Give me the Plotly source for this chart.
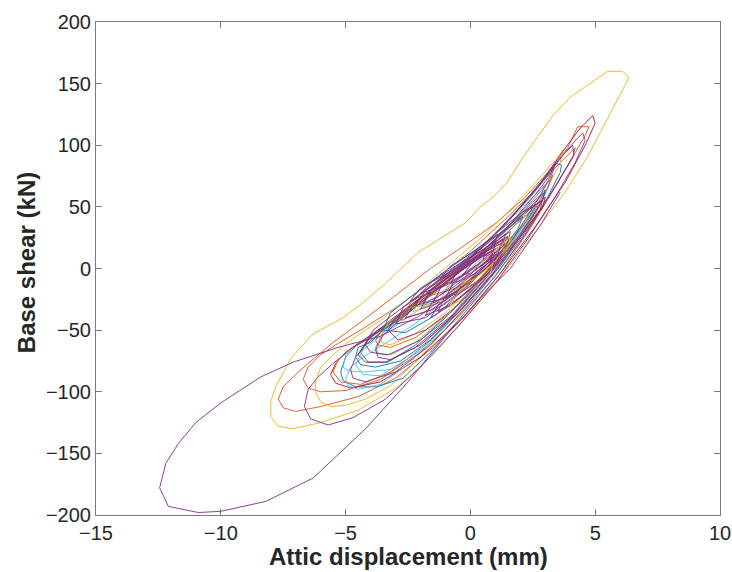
import plotly.graph_objects as go

# MATLAB default colour order
BLUE, ORANGE, YELLOW, PURPLE, GREEN, CYAN, RED = (
    "#0072BD", "#D95319", "#EDB120", "#7E2F8E", "#77AC30", "#4DBEEE", "#A2142F")

# ---- loops: attic displacement (mm) / base shear (kN) ----
y1_x = [-8.0, -7.8, -7.2, -6.3, -5.1, -4.2, -3.4, -2.1, -0.2, 0.4, 0.9, 1.45, 2.1, 2.8, 3.3, 4.0,
        4.8, 5.5, 6.1, 6.35, 6.1, 5.5, 4.7, 3.8, 2.6, 1.3, 0.0, -1.4, -2.9, -4.5, -6.0, -7.1,
        -7.7, -8.0, -8.0]
y1_y = [-108, -96, -73, -53, -40, -26, -12, 13, 37, 50, 58, 69, 90, 110, 124, 139,
        150, 160, 160, 155, 145, 122, 91, 62, 30, -5, -36, -68, -96, -115, -125, -130,
        -128, -120, -108]

o1_x = [-7.5, -7.0, -6.5, -5.5, -4.3, -3.0, -1.6, 0.0, 1.1, 2.2, 3.1, 3.9, 4.3, 4.75, 4.6, 4.2,
        3.5, 2.5, 1.2, 0.0, -1.5, -3.0, -4.5, -6.0, -7.0, -7.5, -7.7, -7.5]
o1_y = [-96, -86, -77, -60, -42, -22, 0, 22, 38, 58, 78, 98, 115, 115, 108, 94,
        70, 36, -4, -34, -64, -89, -104, -112, -116, -113, -106, -96]

p2_x = [-6.5, -6.1, -5.5, -4.7, -3.6, -2.2, -0.8, 0.6, 1.8, 2.8, 3.7, 4.3, 4.5, 4.6, 4.2, 3.4,
        2.3, 1.0, -0.5, -2.0, -3.4, -4.7, -5.7, -6.4, -6.65, -6.5]
p2_y = [-98, -88, -77, -64, -50, -28, -5, 20, 45, 70, 92, 106, 110, 104, 86, 58,
        24, -12, -47, -80, -106, -121, -127, -122, -112, -98]

r1_x = [-5.6, -5.4, -5.0, -4.3, -3.0, -1.5, 0.0, 1.5, 2.7, 3.7, 4.4, 4.9, 5.0, 4.6, 3.8, 2.6,
        1.2, -0.3, -2.0, -3.6, -4.8, -5.4, -5.6]
r1_y = [-86, -77, -68, -58, -40, -16, 8, 38, 66, 95, 114, 124, 118, 100, 70, 34,
        -4, -40, -72, -92, -97, -93, -86]

o2_x = [-6.7, -6.5, -6.0, -5.4, -4.4, -3.0, -1.5, 0.0, 1.4, 2.6, 3.6, 4.2, 4.1, 3.4, 2.3, 1.0,
        -0.5, -2.0, -3.6, -5.0, -6.0, -6.5, -6.7]
o2_y = [-90, -80, -70, -62, -50, -32, -10, 14, 40, 64, 86, 98, 90, 66, 30, -6,
        -40, -68, -90, -99, -100, -97, -90]

y2_x = [-6.2, -6.0, -5.5, -4.8, -3.6, -2.2, -0.8, 0.6, 1.8, 2.8, 3.5, 3.7, 3.6, 3.0, 2.0, 0.8,
        -0.6, -2.0, -3.2, -4.2, -5.0, -5.6, -6.0, -6.2, -6.2]
y2_y = [-92, -80, -70, -58, -42, -20, 4, 28, 52, 74, 90, 96, 86, 62, 28, -6,
        -40, -72, -95, -106, -111, -112, -108, -101, -92]

b1_x = [-5.2, -5.0, -4.6, -4.0, -2.8, -1.4, 0.0, 1.3, 2.4, 3.2, 3.45, 3.65, 3.6, 3.1, 2.2, 1.0,
        -0.4, -1.6, -2.7, -3.75, -4.6, -5.1, -5.2]
b1_y = [-84, -72, -63, -56, -38, -14, 10, 34, 58, 78, 85, 84, 78, 58, 28, -6,
        -40, -68, -89, -96, -96, -91, -84]

c1_x = [-5.1, -5.0, -4.6, -4.0, -2.8, -1.3, 0.2, 1.5, 2.5, 3.0, 3.2, 3.1, 2.3, 1.1, -0.3,
        -1.8, -3.2, -4.3, -4.9, -5.1]
c1_y = [-80, -70, -62, -55, -38, -14, 12, 38, 58, 68, 72, 64, 36, 2, -32, -64, -82, -84, -83, -80]

c3_x = [-5.0, -4.8, -4.3, -3.5, -2.3, -0.9, 0.5, 1.7, 2.4, 2.6, 2.4, 1.5, 0.2, -1.2, -2.5,
        -3.6, -4.5, -4.9, -5.0]
c3_y = [-90, -80, -72, -62, -46, -24, 0, 26, 42, 48, 40, 16, -16, -50, -78, -94, -98, -95, -90]

p3_x = [-4.8, -4.6, -4.2, -3.5, -2.2, -0.8, 0.6, 1.9, 3.0, 3.8, 4.1, 4.15, 3.5, 2.5, 1.2,
        -0.2, -1.6, -3.0, -4.2, -4.7, -4.8]
p3_y = [-82, -72, -62, -50, -30, -6, 20, 48, 74, 94, 100, 92, 70, 38, 2, -32, -62, -84, -92, -89, -82]

b2_x = [-4.6, -4.5, -4.0, -3.6, -2.5, -1.0, 0.4, 1.6, 2.5, 2.85, 3.0, 2.9, 2.2, 1.1, -0.2,
        -1.6, -2.8, -3.8, -4.4, -4.6]
b2_y = [-72, -64, -60, -52, -36, -12, 12, 36, 54, 60, 64, 56, 32, 0, -30, -58, -75, -80, -78, -72]

b3_x = [-4.4, -4.1, -3.5, -2.5, -1.2, 0.2, 1.5, 2.3, 2.6, 2.5, 1.7, 0.5, -0.9, -2.2, -3.3,
        -4.1, -4.4]
b3_y = [-68, -58, -48, -34, -14, 8, 32, 46, 52, 46, 24, -6, -38, -62, -76, -76, -68]

g1_x = [-3.8, -3.5, -2.6, -1.3, 0.0, 1.2, 2.0, 2.4, 2.5, 2.4, 1.6, 0.5, -0.8, -2.2, -3.2, -3.7, -3.8]
g1_y = [-64, -52, -38, -16, 6, 28, 44, 50, 52, 44, 22, -6, -36, -60, -70, -69, -64]

c2_x = [-4.6, -4.3, -3.4, -2.1, -0.7, 0.8, 1.9, 2.5, 2.6, 2.5, 1.6, 0.4, -1.0, -2.4, -3.6, -4.3, -4.6]
c2_y = [-78, -66, -52, -34, -12, 14, 38, 48, 52, 44, 20, -10, -44, -72, -87, -86, -78]

o3_x = [-5.5, -5.3, -4.8, -4.0, -2.8, -1.3, 0.2, 1.6, 2.7, 3.2, 3.3, 3.1, 2.3, 1.1, -0.3,
        -1.8, -3.2, -4.4, -5.2, -5.5]
o3_y = [-84, -74, -65, -56, -40, -18, 8, 36, 60, 72, 76, 66, 40, 4, -30, -62, -84, -94, -92, -84]

m1_x = [-4.2, -3.9, -3.0, -1.7, -0.3, 1.0, 2.1, 2.7, 2.9, 2.8, 2.0, 0.8, -0.6, -2.0, -3.3, -4.0, -4.2]
m1_y = [-62, -50, -36, -16, 6, 28, 46, 53, 56, 48, 26, -4, -36, -58, -70, -68, -62]

m2_x = [-3.8, -3.4, -2.4, -1.0, 0.4, 1.6, 2.4, 2.8, 2.6, 1.8, 0.6, -0.8, -2.2, -3.2, -3.7, -3.8]
m2_y = [-58, -46, -32, -12, 10, 32, 46, 52, 44, 22, -6, -36, -56, -64, -62, -58]

m3_x = [-4.5, -4.1, -3.2, -1.9, -0.4, 1.0, 2.2, 2.8, 3.0, 2.9, 2.1, 0.9, -0.5, -2.0, -3.4, -4.2, -4.5]
m3_y = [-70, -57, -42, -22, 2, 26, 46, 54, 58, 50, 28, -4, -36, -62, -76, -76, -70]

m4_x = [-3.6, -3.3, -2.3, -1.0, 0.3, 1.4, 2.1, 2.4, 2.2, 1.4, 0.3, -1.0, -2.3, -3.2, -3.55, -3.6]
m4_y = [-55, -44, -30, -10, 10, 30, 42, 46, 38, 18, -10, -36, -54, -62, -60, -55]

p4_x = [-3.8, -3.5, -2.6, -1.3, 0.2, 1.5, 2.6, 3.2, 3.4, 3.3, 2.7, 1.7, 0.5, -0.8, -2.2,
        -3.2, -3.7, -3.8]
p4_y = [-66, -54, -38, -16, 8, 34, 60, 76, 86, 78, 56, 24, -10, -40, -64, -74, -72, -66]

p5_x = [-3.3, -3.0, -2.1, -0.8, 0.6, 1.8, 2.6, 3.0, 2.8, 2.0, 0.8, -0.5, -1.8, -2.9, -3.3]
p5_y = [-50, -40, -26, -6, 16, 38, 54, 62, 52, 28, -2, -30, -50, -58, -50]

s1_x = [-2.6, -2.3, -1.4, -0.3, 0.7, 1.3, 1.2, 0.5, -0.5, -1.6, -2.6]
s1_y = [-40, -30, -14, 2, 16, 24, 16, 0, -18, -34, -40]
s2_x = [-2.0, -1.7, -0.8, 0.2, 1.0, 0.9, 0.1, -1.0, -2.0]
s2_y = [-33, -22, -8, 6, 16, 8, -8, -26, -33]
s3_x = [-1.5, -1.2, -0.4, 0.5, 0.9, 0.4, -0.5, -1.5]
s3_y = [-28, -16, -2, 10, 12, 0, -18, -28]
s4_x = [-3.0, -2.7, -1.7, -0.5, 0.7, 1.6, 1.5, 0.6, -0.5, -1.8, -3.0]
s4_y = [-45, -32, -16, 2, 18, 30, 20, 0, -20, -40, -45]
s5_x = [-1.0, -0.7, 0.1, 0.9, 0.8, 0.0, -0.5, -1.0]
s5_y = [-24, -12, 0, 14, 4, -12, -20, -24]
s6_x = [-2.2, -1.8, -0.8, 0.3, 1.2, 1.1, 0.2, -1.0, -2.2]
s6_y = [-30, -18, -4, 10, 20, 10, -8, -24, -30]
s7_x = [-0.6, -0.2, 0.5, 1.1, 0.9, 0.2, -0.6]
s7_y = [-22, -8, 4, 12, 2, -12, -22]
s8_x = [-1.8, -1.5, -0.6, 0.4, 1.3, 1.1, 0.2, -0.8, -1.8]
s8_y = [-38, -26, -12, 2, 14, 4, -14, -30, -38]
s9_x = [-2.3, -1.9, -0.9, 0.3, 1.4, 1.3, 0.3, -1.0, -2.3]
s9_y = [-35, -22, -6, 10, 24, 14, -6, -24, -35]
s10_x = [-2.8, -2.4, -1.3, 0.0, 1.5, 1.4, 0.4, -1.1, -2.8]
s10_y = [-42, -28, -10, 8, 26, 14, -8, -30, -42]
s11_x = [-1.2, -0.9, -0.1, 0.8, 0.7, 0.0, -0.6, -1.2]
s11_y = [-26, -14, -2, 10, 2, -12, -20, -26]
s12_x = [-3.5, -3.2, -2.2, -1.0, 0.4, 1.6, 2.1, 1.9, 1.0, -0.2, -1.4, -2.6, -3.5]
s12_y = [-50, -36, -20, -2, 18, 34, 42, 32, 8, -16, -38, -52, -50]
s13_x = [-1.6, -1.2, -0.3, 0.6, 1.4, 1.2, 0.4, -0.6, -1.6]
s13_y = [-22, -12, 0, 12, 20, 10, -4, -16, -22]
s14_x = [-0.8, -0.5, 0.2, 0.9, 0.8, 0.2, -0.4, -0.8]
s14_y = [-12, -2, 8, 14, 6, -4, -10, -12]
s15_x = [-2.4, -2.1, -1.1, 0.1, 1.0, 1.7, 1.5, 0.6, -0.5, -1.5, -2.4]
s15_y = [-32, -22, -8, 8, 18, 26, 16, 0, -16, -28, -32]
s16_x = [-1.3, -1.0, -0.1, 0.8, 1.2, 1.0, 0.3, -0.6, -1.3]
s16_y = [-35, -22, -8, 6, 12, 2, -12, -26, -35]
s17_x = [-2.0, -1.5, -0.6, 0.4, 1.0, 0.9, 0.0, -1.0, -2.0]
s17_y = [-20, -10, 2, 14, 22, 12, -2, -14, -20]
s18_x = [-1.6, -1.3, -0.5, 0.4, 1.0, 0.8, 0.0, -0.8, -1.6]
s18_y = [-40, -30, -18, -4, 6, -2, -16, -30, -40]
s19_x = [-0.3, 0.1, 0.8, 1.4, 1.3, 0.7, 0.0, -0.3]
s19_y = [-5, 5, 18, 28, 20, 6, -4, -5]
s20_x = [-2.4, -2.0, -1.1, -0.1, 0.6, 0.5, -0.4, -1.4, -2.4]
s20_y = [-26, -16, -6, 6, 14, 6, -6, -18, -26]
s21_x = [-0.8, -0.5, 0.2, 0.9, 0.8, 0.1, -0.4, -0.8]
s21_y = [-30, -20, -8, 4, -4, -16, -26, -30]
s22_x = [-1.2, -0.8, 0.0, 0.7, 1.1, 0.9, 0.2, -0.6, -1.2]
s22_y = [-8, 2, 12, 22, 28, 18, 6, -4, -8]
s23_x = [-1.9, -1.6, -0.8, 0.2, 1.1, 1.5, 1.3, 0.4, -0.6, -1.4, -1.9]
s23_y = [-28, -18, -6, 8, 20, 26, 18, 2, -14, -24, -28]
s24_x = [-0.4, 0.0, 0.6, 1.2, 1.6, 1.5, 0.9, 0.2, -0.4]
s24_y = [-14, -4, 8, 18, 26, 18, 4, -8, -14]

# big purple loop
p1_x = [0.6, -0.5, -2.0, -3.6, -5.3, -7.1, -8.4, -10.0, -11.0, -11.7, -12.2, -12.45, -12.1, -10.9,
        -10.0, -8.2, -6.3, -4.2, -2.5, -1.0, 0.5, 1.6, 2.8, 3.6]
p1_y = [8, -15, -38, -55, -64, -76, -88, -109, -125, -142, -158, -178, -193, -198,
        -197, -189, -170, -130, -92, -55, -22, 0, 35, 62]

loops = [
    (y1_x, y1_y, YELLOW), (o1_x, o1_y, ORANGE), (p2_x, p2_y, PURPLE), (o2_x, o2_y, ORANGE),
    (y2_x, y2_y, YELLOW), (b1_x, b1_y, BLUE), (c1_x, c1_y, CYAN), (r1_x, r1_y, RED),
    (o3_x, o3_y, ORANGE), (c3_x, c3_y, CYAN), (p3_x, p3_y, PURPLE), (b2_x, b2_y, BLUE),
    (b3_x, b3_y, BLUE), (g1_x, g1_y, GREEN), (c2_x, c2_y, CYAN),
    (m1_x, m1_y, PURPLE), (m2_x, m2_y, ORANGE), (m3_x, m3_y, RED), (m4_x, m4_y, YELLOW),
    (p4_x, p4_y, PURPLE), (p5_x, p5_y, PURPLE), (p1_x, p1_y, PURPLE),
    (s12_x, s12_y, BLUE), (s10_x, s10_y, ORANGE), (s9_x, s9_y, YELLOW), (s15_x, s15_y, GREEN),
    (s1_x, s1_y, PURPLE), (s2_x, s2_y, PURPLE), (s4_x, s4_y, PURPLE), (s11_x, s11_y, YELLOW),
    (s3_x, s3_y, PURPLE), (s5_x, s5_y, PURPLE), (s6_x, s6_y, PURPLE), (s13_x, s13_y, ORANGE),
    (s7_x, s7_y, PURPLE), (s8_x, s8_y, PURPLE), (s14_x, s14_y, PURPLE), (s16_x, s16_y, PURPLE),
    (s17_x, s17_y, PURPLE), (s18_x, s18_y, PURPLE), (s21_x, s21_y, YELLOW), (s19_x, s19_y, PURPLE),
    (s20_x, s20_y, PURPLE), (s22_x, s22_y, PURPLE), (s23_x, s23_y, PURPLE), (s24_x, s24_y, YELLOW),
]

x_ticks = [-15, -10, -5, 0, 5, 10]
y_ticks = [-200, -150, -100, -50, 0, 50, 100, 150, 200]

fig = go.Figure()
for lx, ly, col in loops:
    fig.add_trace(go.Scatter(x=lx, y=ly, mode="lines", line=dict(color=col, width=0.9),
                             showlegend=False, hoverinfo="skip"))

FONT = "Liberation Sans, Arial, Helvetica, sans-serif"
axis_common = dict(showgrid=False, zeroline=False, showline=True, linecolor="#7a7a7a",
                   linewidth=1, mirror="ticks", ticks="inside", ticklen=6, tickwidth=1,
                   tickcolor="#7a7a7a", automargin=False,
                   tickfont=dict(family=FONT, size=20, color="#262626"))

fig.update_layout(
    width=732, height=572, plot_bgcolor="white", paper_bgcolor="white",
    margin=dict(l=96, r=12, t=22, b=57),
    xaxis=dict(range=[-15, 10], tickvals=x_ticks, **axis_common),
    yaxis=dict(range=[-200, 200], tickvals=y_ticks, **axis_common),
    annotations=[
        dict(text="<b>Attic displacement (mm)</b>", xref="paper", yref="paper",
             x=0.5, y=-0.085, xanchor="center", yanchor="middle", showarrow=False,
             font=dict(family=FONT, size=24, color="#262626")),
        dict(text="<b>Base shear (kN)</b>", xref="paper", yref="paper",
             x=-0.112, y=0.511, xanchor="center", yanchor="middle", showarrow=False,
             textangle=-90, font=dict(family=FONT, size=24, color="#262626")),
    ],
)

fig.write_html("out.html")
